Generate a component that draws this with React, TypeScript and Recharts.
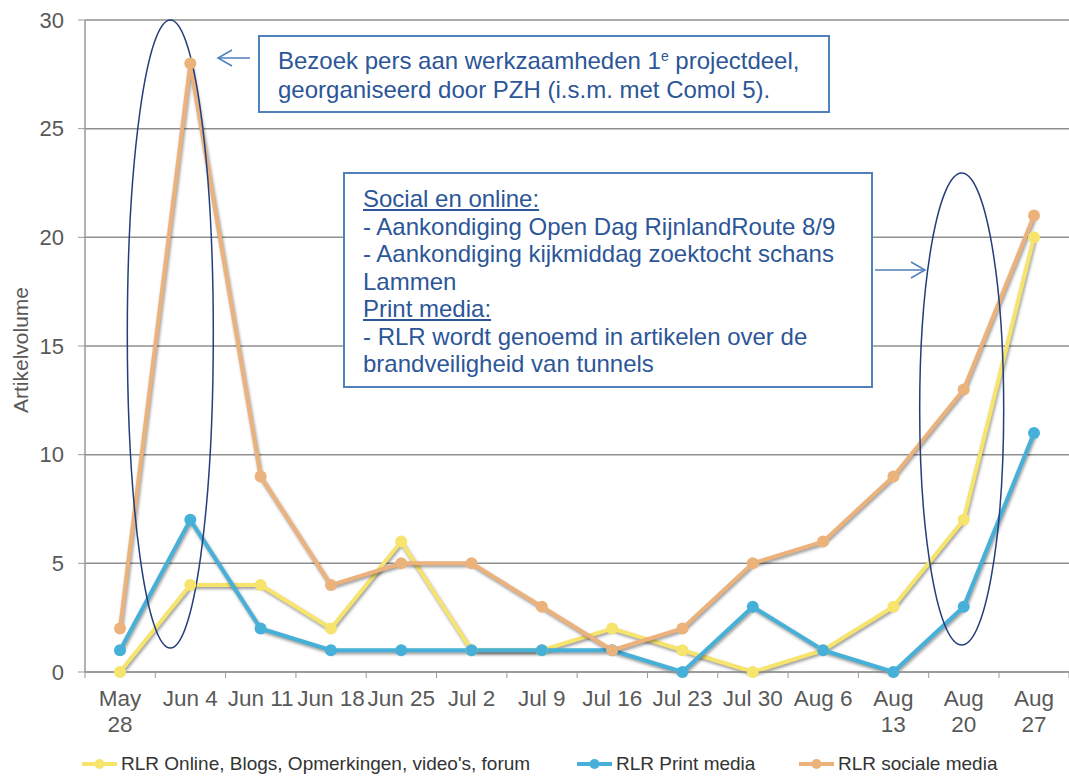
import { LineChart, Line, XAxis, YAxis, CartesianGrid, Legend, ReferenceDot } from 'recharts';

const weeks = ['May 28', 'Jun 4', 'Jun 11', 'Jun 18', 'Jun 25', 'Jul 2', 'Jul 9', 'Jul 16', 'Jul 23', 'Jul 30', 'Aug 6', 'Aug 13', 'Aug 20', 'Aug 27'];
const tickLabels = ['May\n28', 'Jun 4', 'Jun 11', 'Jun 18', 'Jun 25', 'Jul 2', 'Jul 9', 'Jul 16', 'Jul 23', 'Jul 30', 'Aug 6', 'Aug\n13', 'Aug\n20', 'Aug\n27'];
const online = [0, 4, 4, 2, 6, 1, 1, 2, 1, 0, 1, 3, 7, 20];
const print = [1, 7, 2, 1, 1, 1, 1, 1, 0, 3, 1, 0, 3, 11];
const social = [2, 28, 9, 4, 5, 5, 3, 1, 2, 5, 6, 9, 13, 21];
const yTicks = [0, 5, 10, 15, 20, 25, 30];

const series = [
  { key: 'online', name: "RLR Online, Blogs, Opmerkingen, video's, forum", color: '#F6E46C', w: 495 },
  { key: 'print', name: 'RLR Print media', color: '#46B0D8', w: 222 },
  { key: 'social', name: 'RLR sociale media', color: '#ECB27C', w: 220 },
];

const data = weeks.map((w, i) => ({ week: w, online: online[i], print: print[i], social: social[i] }));

const FONT = '"Liberation Sans", Arial, sans-serif';
const AXIS = '#999999';
const TEXT = '#595959';
const NOTE = '#2C5697';
const BOX = '#4F81BD';
const RING = '#233E7A';

function WeekTick(props: any) {
  const { x, y, index } = props;
  const half = 35;
  const lines = tickLabels[index].split('\n');
  return (
    <g>
      <line x1={x - half} x2={x - half} y1={y} y2={y + 6} stroke={AXIS} />
      {index === weeks.length - 1 && <line x1={x + half} x2={x + half} y1={y} y2={y + 6} stroke={AXIS} />}
      <text x={x} y={y + 34} textAnchor="middle" fill={TEXT} fontSize={22.5} fontFamily={FONT}>
        {lines.map((l, i) => (
          <tspan key={i} x={x} dy={i === 0 ? 0 : 26}>{l}</tspan>
        ))}
      </text>
    </g>
  );
}

function LegendRow() {
  return (
    <div style={{ display: 'flex', paddingLeft: 82, height: 24, alignItems: 'center', fontFamily: FONT, fontSize: 19, color: '#333' }}>
      {series.map((s) => (
        <div key={s.key} style={{ display: 'flex', alignItems: 'center', gap: 4, width: s.w, flex: 'none' }}>
          <svg width={35} height={14}>
            <line x1={0} x2={35} y1={7} y2={7} stroke={s.color} strokeWidth={4} />
            <circle cx={17.5} cy={7} r={5} fill={s.color} />
          </svg>
          <span style={{ whiteSpace: 'nowrap' }}>{s.name}</span>
        </div>
      ))}
    </div>
  );
}

const boxStyle: any = {
  position: 'absolute',
  background: '#fff',
  border: `2px solid ${BOX}`,
  color: NOTE,
  fontFamily: FONT,
  fontSize: 24,
  padding: '9px 18px',
  boxSizing: 'border-box',
};

export default function App() {
  return (
    <div style={{ position: 'absolute', left: 0, top: 0, width: 1069, height: 776, background: '#fff' }}>
      <style>{`.recharts-line-curve { filter: drop-shadow(1px 2px 1.5px rgba(0,0,0,0.4)); }`}</style>
      <LineChart width={1069} height={776} data={data} margin={{ top: 20, right: 0, bottom: 0, left: 0 }} style={{ fontFamily: FONT }}>
        <CartesianGrid vertical={false} stroke="#8f8f8f" strokeWidth={1.5} />
        <XAxis
          dataKey="week"
          interval={0}
          padding={{ left: 35, right: 35 }}
          height={80}
          axisLine={{ stroke: AXIS, strokeWidth: 1.5 }}
          tickLine={false}
          tickSize={0}
          tickMargin={0}
          tick={<WeekTick />}
        />
        <YAxis
          width={85}
          domain={[0, 30]}
          ticks={yTicks}
          interval={0}
          axisLine={{ stroke: AXIS, strokeWidth: 1.5 }}
          tickLine={{ stroke: AXIS }}
          tickSize={7}
          tickMargin={14}
          tick={{ fill: TEXT, fontSize: 22, fontFamily: FONT }}
          label={{
            content: (p: any) => {
              const vb = p.viewBox;
              const cy = vb.y + vb.height / 2 + 4;
              const cx = vb.x + 20;
              return (
                <text x={cx} y={cy} transform={`rotate(-90, ${cx}, ${cy})`} textAnchor="middle" dominantBaseline="central" fill={TEXT} fontSize={21} fontFamily={FONT}>
                  Artikelvolume
                </text>
              );
            },
          }}
        />
        <Legend verticalAlign="bottom" align="left" content={() => <LegendRow />} wrapperStyle={{ left: 0, width: 1069 }} />
        {series.map((s) => (
          <Line
            key={s.key}
            type="linear"
            dataKey={s.key}
            name={s.name}
            stroke={s.color}
            strokeWidth={4}
            dot={{ r: 6, fill: s.color, stroke: s.color, strokeWidth: 0 }}
            activeDot={false}
            isAnimationActive={false}
          />
        ))}
        <ReferenceDot
          x="Jun 4"
          y={15.55}
          shape={(p: any) => <ellipse cx={p.cx - 20} cy={p.cy} rx={43} ry={314} fill="none" stroke={RING} strokeWidth={1.5} />}
        />
        <ReferenceDot
          x="Aug 20"
          y={12.1}
          shape={(p: any) => <ellipse cx={p.cx - 2} cy={p.cy} rx={42} ry={236} fill="none" stroke={RING} strokeWidth={1.5} />}
        />
      </LineChart>

      <svg width={1069} height={776} style={{ position: 'absolute', left: 0, top: 0, pointerEvents: 'none' }}>
        <g stroke={BOX} strokeWidth={1.5} fill="none">
          <line x1={218} y1={58} x2={250} y2={58} />
          <polyline points="232,50 218,58 232,66" />
          <line x1={875} y1={270} x2={925} y2={270} />
          <polyline points="911,262 925,270 911,278" />
        </g>
      </svg>

      <div style={{ ...boxStyle, left: 258, top: 35, width: 572, height: 78, lineHeight: '29px' }}>
        Bezoek pers aan werkzaamheden 1<sup style={{ fontSize: 14, verticalAlign: 'top', lineHeight: '20px' }}>e</sup> projectdeel,
        <br />
        georganiseerd door PZH (i.s.m. met Comol 5).
      </div>

      <div style={{ ...boxStyle, left: 343, top: 172, width: 530, height: 216, lineHeight: '27.5px', paddingTop: 11 }}>
        <u>Social en online:</u>
        <br />- Aankondiging Open Dag RijnlandRoute 8/9
        <br />- Aankondiging kijkmiddag zoektocht schans Lammen
        <br />
        <u>Print media:</u>
        <br />- RLR wordt genoemd in artikelen over de brandveiligheid van tunnels
      </div>
    </div>
  );
}
